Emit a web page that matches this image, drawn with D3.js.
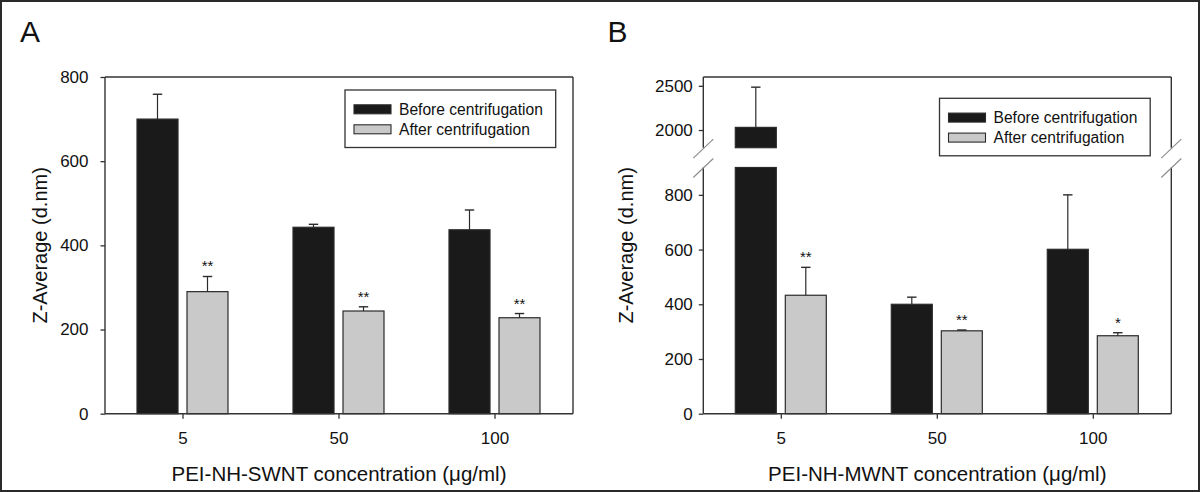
<!DOCTYPE html>
<html><head><meta charset="utf-8">
<script src="https://cdn.jsdelivr.net/npm/d3@7"></script>
<style>
body{margin:0;background:#fff}
svg{display:block}
text{font-family:"Liberation Sans",Arial,sans-serif;fill:#111}
</style>
</head><body><svg id="c" width="1200" height="492"></svg>
<script>
// ---- data ----
const categories = ["5", "50", "100"];
const seriesNames = ["Before centrifugation", "After centrifugation"];

const swntBefore    = [700, 443, 437];
const swntBeforeErr = [59, 7, 47];
const swntAfter     = [290, 244, 228];
const swntAfterErr  = [36, 10, 10];
const swntStars     = ["**", "**", "**"];

const mwntBefore    = [2030, 400, 601];
const mwntBeforeErr = [455, 26, 199];
const mwntAfter     = [433, 303, 285];
const mwntAfterErr  = [102, 3, 11];
const mwntStars     = ["**", "**", "*"];

const swntTicks       = [0, 200, 400, 600, 800];
const mwntLowerTicks  = [0, 200, 400, 600, 800];
const mwntUpperTicks  = [2000, 2500];

const yTitle = "Z-Average (d.nm)";
const xTitleA = "PEI-NH-SWNT concentration (\u03bcg/ml)";
const xTitleB = "PEI-NH-MWNT concentration (\u03bcg/ml)";

// ---- layout ----
const svg = d3.select("#c");
const fillBefore = "#1a1a1a", fillAfter = "#c9c9c9", ink = "#2b2b2b";

svg.append("rect").attr("x", 1).attr("y", 1).attr("width", 1198).attr("height", 490)
  .attr("fill", "none").attr("stroke", "#2a2a2a").attr("stroke-width", 2);

const panels = [
  {
    label: "A", labelX: 20, left: 105, right: 573, top: 77, bottom: 413.7,
    tickPad: 12, yTitleX: 47, legendX: 345, legendY: 90, xTitle: xTitleA,
    before: swntBefore, beforeErr: swntBeforeErr, after: swntAfter, afterErr: swntAfterErr, stars: swntStars,
    segments: [ { d: [0, 800], r: [413.7, 77], ticks: swntTicks } ]
  },
  {
    label: "B", labelX: 607.5, left: 703.3, right: 1171.3, top: 77, bottom: 413.7,
    tickPad: 6, yTitleX: 632.6, legendX: 939.5, legendY: 98.3, xTitle: xTitleB,
    before: mwntBefore, beforeErr: mwntBeforeErr, after: mwntAfter, afterErr: mwntAfterErr, stars: mwntStars,
    segments: [
      { d: [0, 900], r: [413.7, 167.5], ticks: mwntLowerTicks },
      { d: [1800, 2600], r: [147.7, 77], ticks: mwntUpperTicks }
    ]
  }
];

panels.forEach(p => {
  const g = svg.append("g");
  p.segments.forEach(s => s.scale = d3.scaleLinear().domain(s.d).range(s.r));
  const segFor = v => p.segments.find(s => v >= s.d[0] && v <= s.d[1]) || p.segments[p.segments.length - 1];
  const x = d3.scalePoint().domain(categories).range([p.left + 77.5, p.left + 389.5]);
  const barW = 41, half = 4.5;

  // panel label
  g.append("text").attr("x", p.labelX).attr("y", 41.7).attr("font-size", 30).text(p.label);

  // bars
  const series = [
    { vals: p.before, errs: p.beforeErr, fill: fillBefore, off: -half - barW, stars: null },
    { vals: p.after, errs: p.afterErr, fill: fillAfter, off: half, stars: p.stars }
  ];
  series.forEach(sr => {
    categories.forEach((c, i) => {
      const v = sr.vals[i];
      const bx = x(c) + sr.off;
      p.segments.forEach(s => {
        if (v > s.d[0]) {
          const y0 = s.scale(s.d[0]), y1 = s.scale(Math.min(v, s.d[1]));
          g.append("rect").attr("x", bx).attr("y", y1).attr("width", barW).attr("height", y0 - y1)
            .attr("fill", sr.fill).attr("stroke", ink).attr("stroke-width", 1.2);
        }
      });
      // error bar (upward)
      const s = segFor(v);
      const e = v + sr.errs[i];
      const cx = bx + barW / 2;
      const yv = s.scale(v), ye = s.scale(e);
      g.append("line").attr("x1", cx).attr("x2", cx).attr("y1", yv).attr("y2", ye)
        .attr("stroke", ink).attr("stroke-width", 1.2);
      g.append("line").attr("x1", cx - 4.7).attr("x2", cx + 4.7).attr("y1", ye).attr("y2", ye)
        .attr("stroke", ink).attr("stroke-width", 1.4);
      if (sr.stars) {
        g.append("text").attr("x", cx).attr("y", ye - 5).attr("text-anchor", "middle")
          .attr("font-size", 15).text(sr.stars[i]);
      }
    });
  });

  // frame
  const frame = g.append("g").attr("stroke", "#333").attr("stroke-width", 1.4).attr("fill", "none");
  frame.append("line").attr("x1", p.left).attr("x2", p.right).attr("y1", p.top).attr("y2", p.top);
  frame.append("line").attr("x1", p.left).attr("x2", p.right).attr("y1", p.bottom).attr("y2", p.bottom);
  p.segments.forEach(s => {
    [p.left, p.right].forEach(ax => {
      frame.append("line").attr("x1", ax).attr("x2", ax).attr("y1", s.r[0]).attr("y2", s.r[1]);
    });
  });
  // break marks
  for (let k = 0; k < p.segments.length - 1; k++) {
    const yb = [p.segments[k].r[1] + 0.5, p.segments[k + 1].r[0] + 1];
    [p.left, p.right].forEach(ax => {
      yb.forEach(y => {
        g.append("line").attr("x1", ax - 10).attr("x2", ax + 10).attr("y1", y + 9.5).attr("y2", y - 9.5)
          .attr("stroke", "#8a8a8a").attr("stroke-width", 1.1);
      });
    });
  }

  // y axes
  p.segments.forEach(s => {
    const ax = g.append("g").attr("transform", `translate(${p.left},0)`)
      .call(d3.axisLeft(s.scale).tickValues(s.ticks).tickSize(4.5).tickPadding(p.tickPad).tickFormat(d3.format("d")));
    ax.select(".domain").remove();
    ax.selectAll("line").attr("stroke", "#333").attr("stroke-width", 1.3);
    ax.selectAll("text").attr("font-size", 17).attr("fill", "#111")
      .style("font-family", '"Liberation Sans",Arial,sans-serif');
  });

  // x axis
  const xa = g.append("g").attr("transform", `translate(0,${p.bottom})`)
    .call(d3.axisBottom(x).tickSize(5).tickPadding(13));
  xa.select(".domain").remove();
  xa.selectAll("line").attr("stroke", "#333").attr("stroke-width", 1.3);
  xa.selectAll("text").attr("font-size", 17).attr("fill", "#111")
    .style("font-family", '"Liberation Sans",Arial,sans-serif');

  // titles
  g.append("text").attr("x", (p.left + p.right) / 2).attr("y", 480.5).attr("text-anchor", "middle")
    .attr("font-size", 20.5).text(p.xTitle);
  g.append("text").attr("transform", `translate(${p.yTitleX},${(p.top + p.bottom) / 2}) rotate(-90)`)
    .attr("text-anchor", "middle").attr("font-size", 20).text(yTitle);

  // legend
  const lg = g.append("g").attr("transform", `translate(${p.legendX},${p.legendY})`);
  lg.append("rect").attr("width", 210.7).attr("height", 57.5).attr("fill", "#fff")
    .attr("stroke", "#333").attr("stroke-width", 1.3);
  seriesNames.forEach((n, i) => {
    const ry = 19.3 + i * 20;
    lg.append("rect").attr("x", 9).attr("y", ry - 4.5).attr("width", 37).attr("height", 9)
      .attr("fill", i === 0 ? fillBefore : fillAfter).attr("stroke", ink).attr("stroke-width", 1.1);
    lg.append("text").attr("x", 54).attr("y", ry).attr("dy", "0.36em").attr("font-size", 15.6).text(n);
  });
});
</script>
</body></html>
